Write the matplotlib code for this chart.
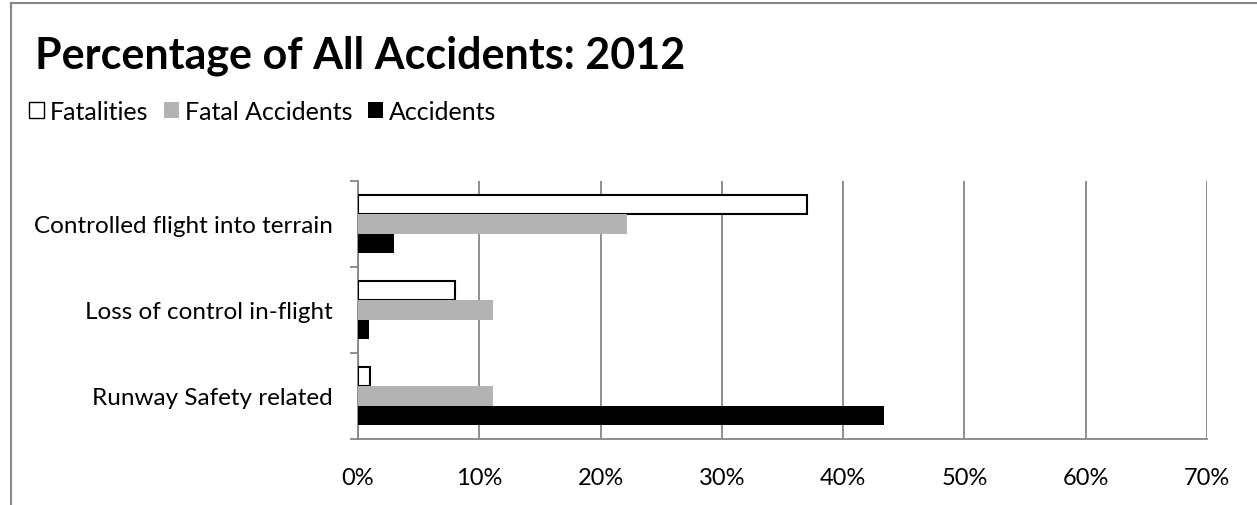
import matplotlib.pyplot as plt
from matplotlib.patches import Patch
from matplotlib.lines import Line2D
from matplotlib.ticker import FixedLocator, FuncFormatter

plt.rcParams['font.family'] = ['Lato', 'DejaVu Sans']

categories = ['Runway Safety related', 'Loss of control in-flight',
              'Controlled flight into terrain']
fatalities = [1.0, 8.0, 37.0]
fatal_accidents = [11.1, 11.1, 22.2]
accidents = [43.4, 0.9, 3.0]
series_names = ['Fatalities', 'Fatal Accidents', 'Accidents']

W, H = 1257, 506
fig = plt.figure(figsize=(W / 100, H / 100), dpi=100)

# chart border (top and left edges visible)
border = '#868686'
fig.add_artist(Line2D([11 / W, 1], [1 - 4 / H, 1 - 4 / H], color=border, lw=1.5,
                      transform=fig.transFigure))
fig.add_artist(Line2D([11 / W, 11 / W], [0, 1 - 4 / H], color=border, lw=1.5,
                      transform=fig.transFigure))

ax = fig.add_axes([358 / W, (H - 440) / H, 849 / W, 258 / H])

h = 0.222
y = list(range(len(categories)))
ax.barh([v + h for v in y], fatalities, height=h, color='white',
        edgecolor='black', linewidth=1.5, zorder=3)
ax.barh(y, fatal_accidents, height=h, color='#b3b3b3', zorder=3)
ax.barh([v - h for v in y], accidents, height=h, color='black', zorder=3)

ax.set_xlim(0, 70)
ax.set_ylim(-0.5, len(categories) - 0.5)

ax.xaxis.set_major_locator(FixedLocator(range(0, 71, 10)))
ax.xaxis.set_major_formatter(FuncFormatter(lambda v, p: '{:.0f}%'.format(v)))
ax.tick_params(axis='x', length=0, pad=20, labelsize=17)
ax.grid(axis='x', color='#868686', linewidth=1.3, zorder=0)

ax.set_yticks([v - 0.5 for v in range(len(categories) + 1)])
ax.set_yticklabels([])
ax.set_yticks(y, minor=True)
ax.set_yticklabels(categories, minor=True, fontsize=17.5)
ax.tick_params(axis='y', which='major', length=6, color='#868686', width=1.3)
ax.tick_params(axis='y', which='minor', length=0, pad=18)

for s in ['top', 'right']:
    ax.spines[s].set_visible(False)
for s in ['left', 'bottom']:
    ax.spines[s].set_color('#868686')
    ax.spines[s].set_linewidth(1.3)

fig.text(35 / W, 1 - 68 / H, 'Percentage of All Accidents: 2012',
         fontsize=31, fontweight='bold', va='baseline', ha='left')

handles = [Patch(facecolor='white', edgecolor='black', linewidth=1),
           Patch(facecolor='#b3b3b3'),
           Patch(facecolor='black')]
fig.legend(handles, series_names, loc='center left',
           bbox_to_anchor=(29 / W, 1 - 112 / H), ncol=3, frameon=False,
           fontsize=18, handlelength=0.6, handleheight=0.6,
           handletextpad=0.25, columnspacing=0.6, borderaxespad=0,
           borderpad=0)

fig.savefig('out.png', dpi=100)
